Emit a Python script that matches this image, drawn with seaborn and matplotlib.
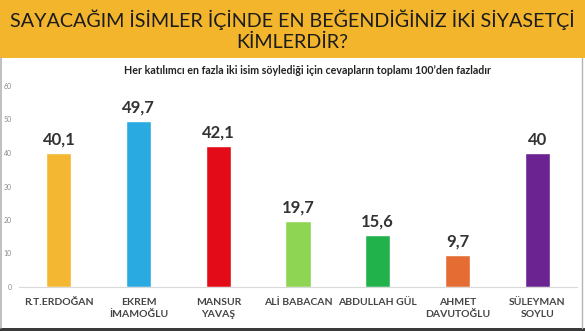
import matplotlib
matplotlib.use("Agg")
import matplotlib.pyplot as plt
import seaborn as sns
import pandas as pd
from matplotlib.patches import Rectangle

names = ["R.T.ERDOĞAN", "EKREM\nİMAMOĞLU", "MANSUR\nYAVAŞ", "ALİ BABACAN",
         "ABDULLAH GÜL", "AHMET\nDAVUTOĞLU", "SÜLEYMAN\nSOYLU"]
values = [40.1, 49.7, 42.1, 19.7, 15.6, 9.7, 40.0]
value_labels = ["40,1", "49,7", "42,1", "19,7", "15,6", "9,7", "40"]
colors = ["#F4B731", "#29ABE2", "#E30B17", "#8DD553", "#22B24C", "#E56D33", "#6A2391"]
yticks = [0, 10, 20, 30, 40, 50, 60]

title = "SAYACAĞIM İSİMLER İÇİNDE EN BEĞENDİĞİNİZ İKİ SİYASETÇİ\nKİMLERDİR?"
subtitle = "Her katılımcı en fazla iki isim söylediği için cevapların toplamı 100’den fazladır"

sns.set_theme(style="white")
plt.rcParams["font.family"] = ["Lato", "DejaVu Sans"]

df = pd.DataFrame({"name": names, "value": values})

W, H = 585, 331
fig = plt.figure(figsize=(W / 100, H / 100), dpi=100)
fig.patch.set_facecolor("white")

# header band
fig.patches.append(Rectangle((0, 1 - 58 / H), 1, 58 / H, transform=fig.transFigure,
                             facecolor="#F3B52C", edgecolor="none", zorder=0))
# thin dark strip along the bottom edge
fig.patches.append(Rectangle((0, 0), 1, 3 / H, transform=fig.transFigure,
                             facecolor="#3a3a3a", edgecolor="none", zorder=0))
# side frame lines
fig.lines.append(plt.Line2D([1 / W, 1 / W], [3 / H, 1 - 58 / H], transform=fig.transFigure,
                            color="#b5b5b5", lw=1.2))
fig.lines.append(plt.Line2D([582 / W, 582 / W], [3 / H, 1 - 58 / H], transform=fig.transFigure,
                            color="#b5b5b5", lw=1))

fig.text(0.5, 1 - 30 / H, title, ha="center", va="center", fontsize=14.2,
         color="#1c1c1c", linespacing=1.3)
fig.text(307.5 / W, 1 - 70 / H, subtitle, ha="center", va="center", fontsize=7.7,
         fontweight="bold", color="#222222")

ax = fig.add_axes([19 / W, 1 - 287 / H, (577 - 19) / W, 201 / H])
sns.barplot(data=df, x="name", y="value", hue="name", palette=colors, legend=False,
            width=0.314, ax=ax, saturation=1)
ax.set_xlim(-0.5, 6.5)
ax.set_ylim(0, 60)
ax.set_facecolor("none")

for i, (v, lab) in enumerate(zip(values, value_labels)):
    ax.text(i, v + 2.4, lab, ha="center", va="baseline", fontsize=12,
            fontweight="bold", color="#333333")

ax.set_yticks(yticks)
ax.set_yticklabels([str(t) for t in yticks], fontsize=5, color="#8a8a8a")
ax.tick_params(axis="y", length=0, pad=5)
ax.tick_params(axis="x", length=0, pad=8)
ax.set_xticks(range(len(names)))
ax.set_xticklabels(names, fontsize=7.5, fontweight="bold", color="#444444", linespacing=1.35)
ax.set_xlabel("")
ax.set_ylabel("")
for s in ["left", "right", "top"]:
    ax.spines[s].set_visible(False)
ax.spines["bottom"].set_color("#d9d9d9")
ax.spines["bottom"].set_linewidth(0.8)

fig.savefig("out.png", dpi=100)
